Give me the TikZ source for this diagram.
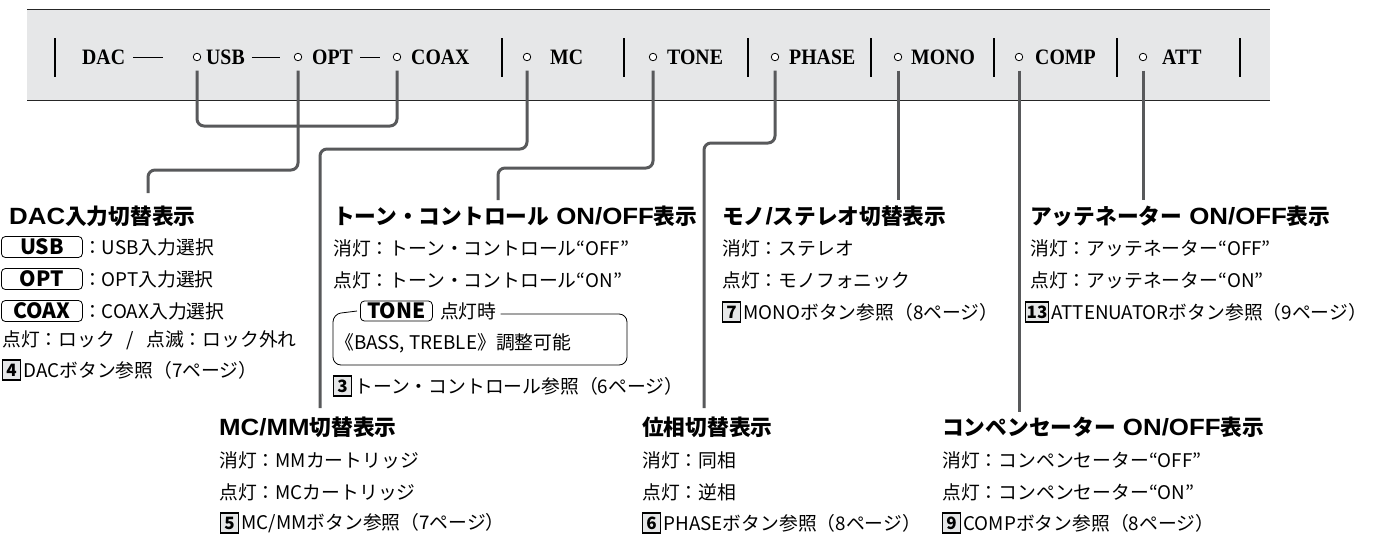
\documentclass[tikz,border=0pt]{standalone}
\usepackage{fontspec}
\usetikzlibrary{positioning}
\newfontfamily\jp{Noto Sans CJK JP}
\newfontfamily\tlatin{Liberation Sans}[FakeStretch=1.1]
\newfontfamily\panelfont{Liberation Serif}[FakeStretch=0.9]
\newcommand{\tl}[1]{{\tlatin\bfseries\fontsize{23.5}{23.5}\selectfont #1}}
\definecolor{panelgray}{HTML}{E6E7E8}
\definecolor{leadgray}{HTML}{58595B}

\begin{document}
\begin{tikzpicture}[x=1pt, y=-1pt,
    lamp/.style={circle, draw=black, fill=white, line width=0.8pt, inner sep=0pt, minimum size=7.5pt},
    plabel/.style={anchor=west, inner sep=0pt, font=\panelfont\bfseries\fontsize{22}{22}\selectfont},
    sepline/.style={line width=1.1pt, black},
    dashln/.style={line width=0.9pt, black},
    lead/.style={line width=3pt, draw=leadgray, rounded corners=7pt, shorten <=9.5pt},
    title/.style={anchor=west, inner sep=0pt, font=\jp\bfseries\fontsize{21.7}{21.7}\selectfont},
    body/.style={anchor=west, inner sep=0pt, font=\jp\fontsize{18.8}{18.8}\selectfont},
    keybox/.style={draw, rounded corners=4pt, line width=0.8pt, anchor=west, inner sep=0pt,
        minimum height=21pt, font=\jp\bfseries\fontsize{21}{21}\selectfont},
    numbox/.style={draw, fill=panelgray, line width=1.3pt, anchor=west, inner xsep=1pt, inner ysep=0pt,
        minimum width=18pt, minimum height=20pt, font=\jp\bfseries\fontsize{17}{17}\selectfont},
]
    \useasboundingbox (0,0) rectangle (1400,536);

    \fill[panelgray] (27,9.5) rectangle (1270,100);
    \draw[line width=1pt, black!85] (27,9.5) -- (1270,9.5);
    \draw[line width=1pt, black!85] (27,100) -- (1270,100);
    \foreach \x in {55,502,624,748,871,994,1117,1240}
        \draw[sepline] (\x,38) -- (\x,77);

    \node[plabel] (dac) at (82,57) {DAC};
    \node[lamp] (usb) at (197,57) {};
    \node[plabel] (usblbl) at (206,57) {USB};
    \node[lamp] (opt) at (298,57) {};
    \node[plabel] (optlbl) at (312,57) {OPT};
    \node[lamp] (coax) at (397,57) {};
    \node[plabel] (coaxlbl) at (411,57) {COAX};
    \node[lamp] (mc) at (527,57) {};
    \node[plabel] (mclbl) at (550,57) {MC};
    \node[lamp] (tone) at (653,57) {};
    \node[plabel] (tonelbl) at (667,57) {TONE};
    \node[lamp] (phase) at (775,57) {};
    \node[plabel] (phaselbl) at (789,57) {PHASE};
    \node[lamp] (mono) at (898,57) {};
    \node[plabel] (monolbl) at (911,57) {MONO};
    \node[lamp] (comp) at (1019,57) {};
    \node[plabel] (complbl) at (1035,57) {COMP};
    \node[lamp] (att) at (1143,57) {};
    \node[plabel] (attlbl) at (1162,57) {ATT};

    \draw[dashln, shorten <=8pt, shorten >=30pt] (dac) -- (usb);
    \draw[dashln, shorten <=7pt, shorten >=14pt] (usblbl) -- (opt);
    \draw[dashln, shorten <=7pt, shorten >=13pt] (optlbl) -- (coax);

    \coordinate (dacend) at (148,193);
    \coordinate (mcend) at (320,408);
    \coordinate (toneend) at (498,200);
    \coordinate (phaseend) at (704,408);
    \coordinate (monoend) at (898,200);
    \coordinate (compend) at (1019,412);
    \coordinate (attend) at (1143,200);

    \draw[lead, shorten >=9.5pt] (usb.south) -- (usb.south |- 0,126) -- (coax.south |- 0,126) -- (coax.south);
    \draw[lead] (opt.south) -- (opt.south |- 0,170) -- (dacend |- 0,170) -- (dacend);
    \draw[lead] (mc.south) -- (mc.south |- 0,149) -- (mcend |- 0,149) -- (mcend);
    \draw[lead] (tone.south) -- (tone.south |- 0,168) -- (toneend |- 0,168) -- (toneend);
    \draw[lead] (phase.south) -- (phase.south |- 0,143) -- (phaseend |- 0,143) -- (phaseend);
    \draw[lead] (mono.south) -- (monoend);
    \draw[lead] (comp.south) -- (compend);
    \draw[lead] (att.south) -- (attend);

    \node[title] (dactitle) at (9,216) {\tl{DAC}入力切替表示};
    \node[keybox, minimum width=81pt] (usbkey) at (1,247) {USB};
    \node[body] (usbtxt) at (usbkey.east) {：USB入力選択};
    \node[keybox, minimum width=81pt] (optkey) at (1,279) {OPT};
    \node[body] (opttxt) at (optkey.east) {：OPT入力選択};
    \node[keybox, minimum width=81pt] (coaxkey) at (1,311) {COAX};
    \node[body] (coaxtxt) at (coaxkey.east) {：COAX入力選択};
    \node[body] (daclock) at (2,340) {点灯：ロック\hspace{12pt}/\hspace{12pt}点滅：ロック外れ};
    \node[numbox] (n4) at (2,370) {4};
    \node[body, right=2pt of n4] (dacref) {DACボタン参照（7ページ）};

    \node[title] (tonetitle) at (333,216) {トーン・コントロール\tl{ ON/OFF}表示};
    \node[body] (toneoff) at (333,248) {消灯：トーン・コントロール“OFF”};
    \node[body] (toneon) at (333,280) {点灯：トーン・コントロール“ON”};
    \node[keybox, minimum width=72pt, minimum height=20pt] (tonekey) at (360,311) {TONE};
    \node[body, right=7pt of tonekey] (tonelit) {点灯時};
    \draw[line width=0.8pt, rounded corners=8pt] ([xshift=-3pt]tonekey.west) -- (333,314) -- (333,365)
        -- (627,365) -- (627,314) -- ([xshift=4pt]tonelit.east |- 0,314);
    \node[body] (tonebass) at (335,343) {《BASS, TREBLE》調整可能};
    \node[numbox] (n3) at (333,386) {3};
    \node[body, right=2pt of n3] (toneref) {トーン・コントロール参照（6ページ）};

    \node[title] (monotitle) at (722,216) {モノ\tl{/}ステレオ切替表示};
    \node[body] (monooff) at (722,248) {消灯：ステレオ};
    \node[body] (monoon) at (722,280) {点灯：モノフォニック};
    \node[numbox] (n7) at (722,312) {7};
    \node[body, right=2pt of n7] (monoref) {MONOボタン参照（8ページ）};

    \node[title] (atttitle) at (1030,216) {アッテネーター\tl{ ON/OFF}表示};
    \node[body] (attoff) at (1030,248) {消灯：アッテネーター“OFF”};
    \node[body] (atton) at (1030,280) {点灯：アッテネーター“ON”};
    \node[numbox] (n13) at (1025,312) {13};
    \node[body, right=2pt of n13] (attref) {ATTENUATORボタン参照（9ページ）};

    \node[title] (mctitle) at (219,427) {\tl{MC/MM}切替表示};
    \node[body] (mcoff) at (219,460) {消灯：MMカートリッジ};
    \node[body] (mcon) at (219,492) {点灯：MCカートリッジ};
    \node[numbox] (n5) at (220,523) {5};
    \node[body, right=2pt of n5] (mcref) {MC/MMボタン参照（7ページ）};

    \node[title] (phasetitle) at (642,427) {位相切替表示};
    \node[body] (phaseoff) at (642,460) {消灯：同相};
    \node[body] (phaseon) at (642,492) {点灯：逆相};
    \node[numbox] (n6) at (642,523) {6};
    \node[body, right=2pt of n6] (phaseref) {PHASEボタン参照（8ページ）};

    \node[title] (comptitle) at (942,427) {コンペンセーター\tl{ ON/OFF}表示};
    \node[body] (compoff) at (942,460) {消灯：コンペンセーター“OFF”};
    \node[body] (compon) at (942,492) {点灯：コンペンセーター“ON”};
    \node[numbox] (n9) at (942,523) {9};
    \node[body, right=2pt of n9] (compref) {COMPボタン参照（8ページ）};
\end{tikzpicture}
\end{document}
